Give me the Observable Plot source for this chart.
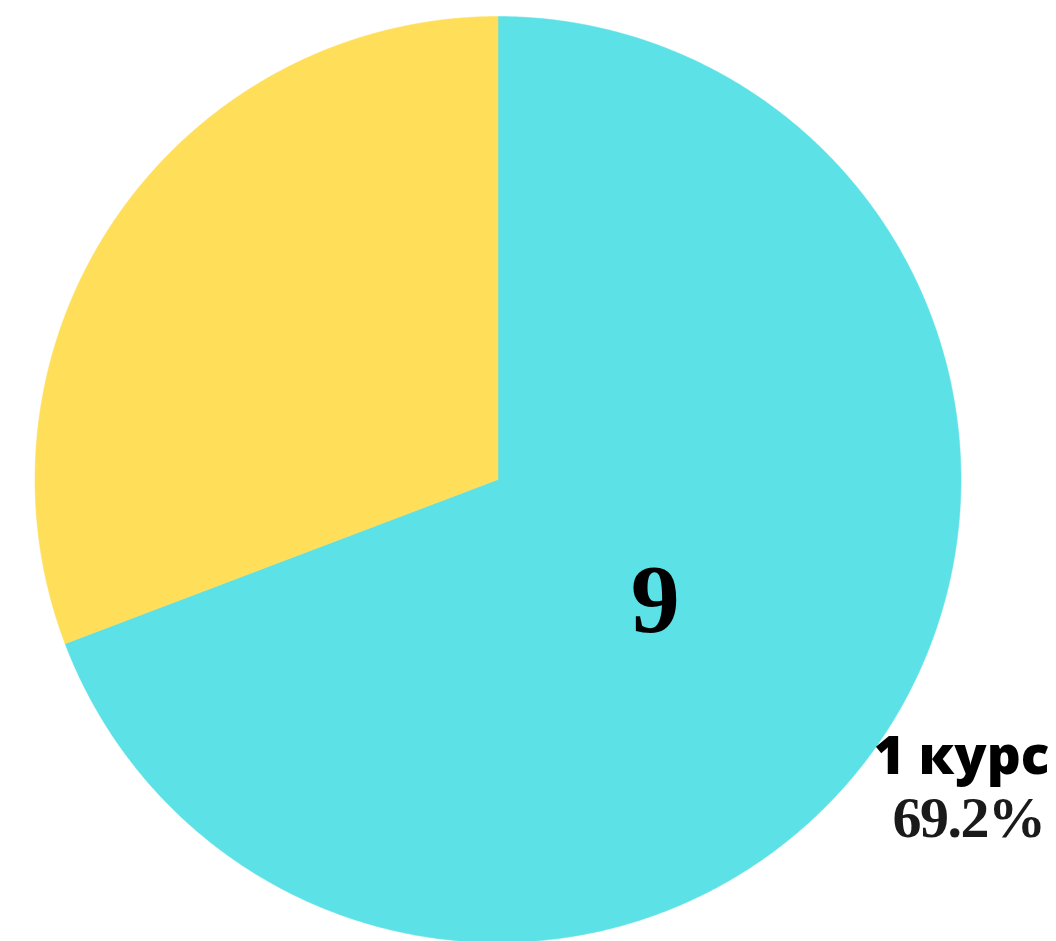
<!DOCTYPE html>
<html><head><meta charset="utf-8">
<script src="https://cdn.jsdelivr.net/npm/d3@7"></script>
<script src="https://cdn.jsdelivr.net/npm/@observablehq/plot@0.6"></script>
<style>html,body{margin:0;padding:0;background:#fff;overflow:hidden}
.pct text{letter-spacing:-1.5px}</style>
</head><body><div id="chart"></div>
<script>
const categories = ["1 курс", "2 курс"];
const counts = [9, 4];
const colors = ["#5CE1E6", "#FFDE59"];

const total = d3.sum(counts);
const pie = d3.pie().sort(null).value(d => d)(counts);

// polygon vertices for each wedge (geometry, sampled along arc)
const wedgePts = [];
pie.forEach((p, i) => {
  wedgePts.push({cat: categories[i], x: 0, y: 0});
  const n = Math.max(2, Math.ceil((p.endAngle - p.startAngle) / 0.005));
  for (let k = 0; k <= n; k++) {
    const a = p.startAngle + (p.endAngle - p.startAngle) * k / n;
    wedgePts.push({cat: categories[i], x: Math.sin(a), y: Math.cos(a)});
  }
  wedgePts.push({cat: categories[i], x: 0, y: 0});
});

const main = pie[0];
const mid = (main.startAngle + main.endAngle) / 2;
const valueLabel = [{x: 0.43 * Math.sin(mid + 0.04), y: 0.43 * Math.cos(mid + 0.04), t: String(counts[0])}];
const catLabel = [{x: 1.19 * Math.sin(mid - 0.05), y: 1.19 * Math.cos(mid - 0.05), t: categories[0]}];
const pctLabel = [{x: 1.19 * Math.sin(mid - 0.05), y: 1.19 * Math.cos(mid - 0.05), t: (counts[0] / total * 100).toFixed(1) + "%"}];

const cx = 497.5, cy = 479, r = 463;
const chart = Plot.plot({
  width: 1056, height: 941,
  margin: 0,
  x: {domain: [-1, 1], range: [cx - r, cx + r], axis: null},
  y: {domain: [-1, 1], range: [cy + r, cy - r], axis: null},
  color: {domain: categories, range: colors},
  marks: [
    Plot.line(wedgePts, {x: "x", y: "y", z: "cat", fill: "cat", stroke: "cat", strokeWidth: 0.5, curve: "linear"}),
    Plot.text(valueLabel, {x: "x", y: "y", text: "t", fontSize: 98, fontWeight: 900, fontFamily: "Liberation Serif, Times New Roman, serif", fill: "#000", dx: -2, dy: 2}),
    Plot.text(catLabel, {x: "x", y: "y", text: "t", fontSize: 53, fontWeight: 800, fontFamily: "Open Sans", fill: "#000", dx: -5, dy: -12}),
    Plot.text(pctLabel, {x: "x", y: "y", text: "t", fontSize: 58, fontWeight: 900, fontFamily: "Liberation Serif, Times New Roman, serif", fill: "#1a1a1a", dx: 2, dy: 49, className: "pct"})
  ]
});
document.getElementById("chart").appendChild(chart);
</script></body></html>
